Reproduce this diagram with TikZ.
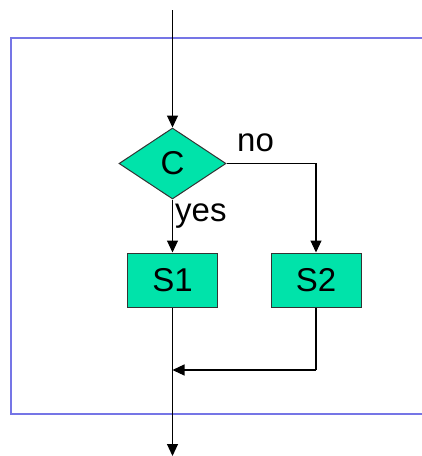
\documentclass[tikz,border=0pt]{standalone}
\usepackage{fontspec}
\setmainfont{Liberation Sans}
\usetikzlibrary{shapes.geometric,arrows.meta}
\definecolor{boxfill}{HTML}{00E3AA}
\definecolor{frameblue}{HTML}{7575E6}
\tikzset{
  flow/.style={draw=black, line width=1.1pt, -{Triangle[length=12pt,width=11pt]}},
  plain/.style={draw=black, line width=1.1pt},
  stepbox/.style={rectangle, draw=black!80, line width=1pt, fill=boxfill,
    minimum width=90pt, minimum height=54pt, inner sep=0pt,
    font=\fontsize{33}{33}\selectfont},
  decision/.style={diamond, draw=black!80, line width=1pt, fill=boxfill,
    minimum width=107pt, minimum height=71pt, inner sep=0pt,
    font=\fontsize{33}{33}\selectfont},
  lbl/.style={anchor=base west, inner sep=0pt, font=\fontsize{33}{33}\selectfont}
}
\begin{document}
\begin{tikzpicture}[x=1pt,y=-1pt]
\useasboundingbox (0,0) rectangle (422,456);
\clip (0,0) rectangle (422,456);
% enclosing frame (open to the right)
\draw[frameblue, line width=1.5pt] (11,38) rectangle (440,414);
% entry and exit points
\coordinate (entry) at (172.5,10);
\coordinate (exit) at (172.5,456);
\coordinate (join) at (172.5,370);
\coordinate (corner) at (316,370);
% nodes
\node[decision] (c) at (172.5,163.5) {C};
\node[stepbox] (s1) at (172.5,280) {S1};
\node[stepbox] (s2) at (316,280) {S2};
% connectors
\draw[flow] (entry) -- (c.north);
\draw[flow] (c.south) -- (s1.north);
\draw[flow] (c.east) -| (s2.north);
\draw[flow] (s1.south) -- (exit);
\draw[plain] (s2.south) -- (corner);
\draw[flow] (corner) -- (join);
% branch labels
\node[lbl] (yes) at (175,221) {yes};
\node[lbl] (no) at (237,151) {no};
\end{tikzpicture}
\end{document}
